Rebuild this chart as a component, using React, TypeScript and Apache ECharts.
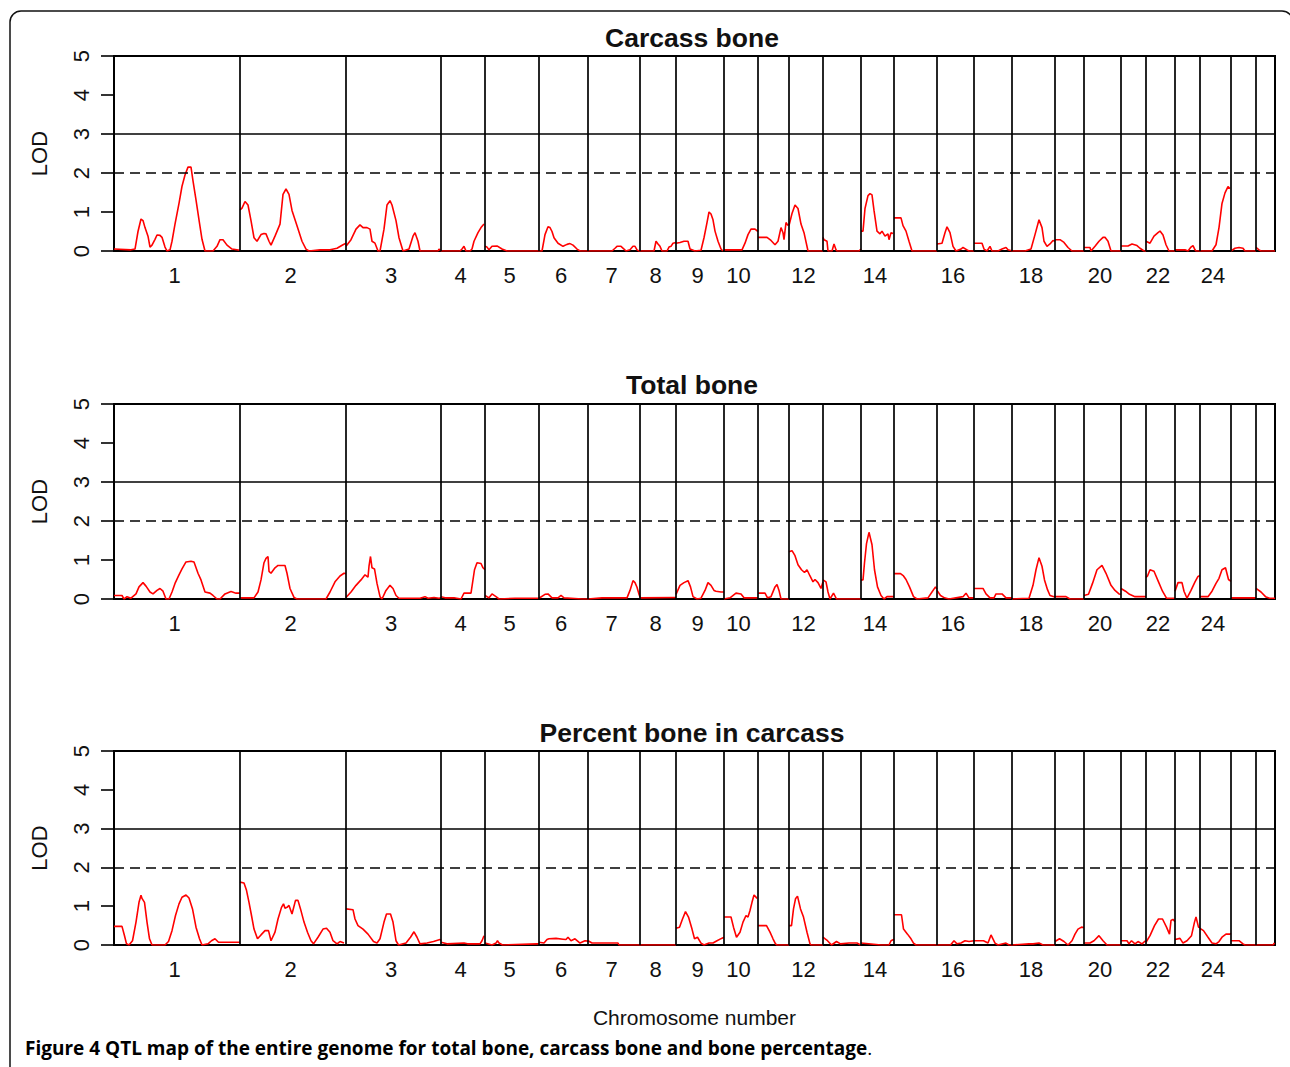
import { useEffect, useRef } from "react";
import * as echarts from "echarts";

// ---------- data ----------
const chromosomes = ["1","2","3","4","5","6","7","8","9","10","11","12","13","14","15","16","17","18","19","20","21","22","23","24","25","26"];
// chromosome map lengths (cM, map units of the genome scan)
const chrLengths = [126,106,95,44,54,49,52,36,48,34,31,34,38,33,43,37,38,43,29,37,25,29,25,31,25,19];
const labelledChromosomes = ["1","2","3","4","5","6","7","8","9","10","12","14","16","18","20","22","24"];
const yTickValues = [0, 1, 2, 3, 4, 5];
const thresholdLOD = 2;
const upperLOD = 3;
const panelTitles = ["Carcass bone", "Total bone", "Percent bone in carcass"];

type Curve = [number, number][];

// LOD profiles per chromosome: [position within chromosome, LOD]
const carcassBone: Curve[] = [
  [[0,0.05],[17,0.03],[21,0.05],[24,0.5],[27,0.82],[29,0.78],[31,0.6],[34,0.38],[36,0.1],[38,0.15],[41,0.3],[43,0.41],[46,0.4],[48,0.35],[51,0.1],[53,0],[56,0.03],[58,0.25],[61,0.69],[65,1.22],[68,1.66],[71,1.95],[74,2.15],[77,2.15],[79,1.8],[82,1.31],[85,0.8],[88,0.3],[91,0],[99,0],[103,0.12],[106,0.29],[109,0.29],[113,0.15],[118,0.05],[126,0.02]],
  [[0,1.05],[2,1.1],[5,1.27],[8,1.18],[11,0.78],[14,0.34],[17,0.25],[21,0.42],[24,0.45],[26,0.44],[29,0.25],[31,0.15],[35,0.38],[40,0.69],[43,1.45],[46,1.59],[49,1.45],[52,1.04],[57,0.65],[62,0.25],[66,0.05],[69,0],[80,0.03],[90,0.03],[97,0.07],[103,0.16],[106,0.2]],
  [[0,0.12],[5,0.29],[10,0.56],[14,0.67],[17,0.6],[21,0.6],[24,0.56],[26,0.25],[29,0.2],[32,0],[34,0],[38,0.56],[41,1.18],[44,1.29],[46,1.18],[50,0.78],[53,0.34],[57,0],[63,0.05],[67,0.38],[69,0.47],[72,0.25],[74,0],[92,0],[93,0.05],[95,0]],
  [[0,0],[19,0],[21,0.05],[23,0.12],[25,0],[29,0],[31,0.05],[33,0.25],[37,0.47],[40,0.6],[43,0.69]],
  [[0,0.12],[2,0.1],[4,0.03],[7,0.12],[12,0.13],[17,0.05],[22,0],[54,0]],
  [[0,0],[3,0],[6,0.42],[9,0.62],[11,0.6],[13,0.5],[15,0.34],[19,0.2],[24,0.12],[28,0.17],[31,0.19],[34,0.15],[38,0.05],[41,0],[49,0]],
  [[0,0],[24,0],[27,0.07],[29,0.12],[33,0.12],[36,0.05],[38,0],[42,0.03],[45,0.12],[47,0.12],[49,0.03],[51,0],[52,0]],
  [[0,0],[14,0],[16,0.25],[18,0.18],[20,0.12],[22,0],[27,0],[29,0.1],[31,0.12],[33,0.2],[36,0.22]],
  [[0,0.2],[4,0.22],[8,0.25],[12,0.25],[14,0.05],[19,0],[25,0.02],[28,0.34],[31,0.73],[33,1.0],[35,0.95],[37,0.8],[39,0.51],[42,0.25],[45,0.05],[47,0]],
  [[0,0.03],[18,0.03],[21,0.2],[24,0.42],[27,0.56],[31,0.56],[34,0.5]],
  [[0,0.35],[9,0.35],[13,0.27],[17,0.16],[20,0.25],[23,0.6],[25,0.47],[26,0.29],[28,0.73],[30,0.65]],
  [[0,0.65],[3,0.96],[6,1.18],[9,1.09],[12,0.69],[15,0.47],[19,0],[34,0]],
  [[0,0.35],[1,0.29],[4,0.25],[5,0],[9,0],[11,0.18],[13,0.03],[14,0],[36,0],[38,0.05]],
  [[0,0.51],[2,0.51],[4,1.09],[7,1.42],[9,1.47],[11,1.44],[13,1.04],[16,0.51],[19,0.44],[21,0.51],[24,0.38],[27,0.44],[28,0.29],[30,0.47],[32,0.45]],
  [[0,0.85],[7,0.85],[9,0.65],[12,0.51],[15,0.25],[18,0],[43,0]],
  [[0,0.18],[5,0.2],[8,0.47],[10,0.62],[13,0.47],[16,0.12],[19,0],[24,0.05],[26,0.09],[30,0.03],[32,0],[37,0]],
  [[0,0.2],[8,0.2],[10,0.05],[13,0],[16,0.12],[18,0],[24,0],[28,0.05],[32,0.09],[34,0.03],[38,0]],
  [[0,0],[13,0],[19,0.05],[23,0.42],[27,0.8],[30,0.6],[32,0.25],[35,0.12],[38,0.18],[41,0.27],[43,0.25]],
  [[0,0.29],[5,0.29],[9,0.22],[13,0.09],[17,0],[29,0]],
  [[0,0.09],[6,0.09],[7,0],[11,0.12],[15,0.25],[19,0.35],[21,0.35],[24,0.25],[27,0],[37,0]],
  [[0,0.13],[7,0.13],[11,0.18],[16,0.14],[19,0.07],[23,0],[25,0]],
  [[0,0.25],[4,0.2],[8,0.38],[12,0.47],[14,0.51],[17,0.41],[20,0.16],[23,0],[29,0]],
  [[0,0.03],[10,0.03],[13,0],[16,0.1],[18,0.14],[20,0.03],[21,0],[25,0]],
  [[0,0],[12,0],[16,0.16],[19,0.6],[22,1.22],[25,1.49],[28,1.65],[30,1.6]],
  [[0,0],[4,0.07],[8,0.09],[12,0.07],[14,0],[25,0]],
  [[0,0.09],[3,0.03],[5,0],[19,0]],
];

const totalBone: Curve[] = [
  [[0,0.09],[8,0.09],[10,0],[13,0.06],[17,0.02],[22,0.13],[25,0.31],[29,0.42],[32,0.33],[36,0.18],[39,0.13],[43,0.22],[46,0.27],[49,0.2],[52,0],[55,0],[58,0.18],[61,0.4],[65,0.62],[68,0.77],[72,0.95],[77,0.97],[80,0.95],[84,0.66],[87,0.49],[91,0.18],[96,0.15],[99,0.09],[103,0],[106,0],[111,0.13],[117,0.19],[122,0.15],[126,0.15]],
  [[0,0.03],[14,0.03],[18,0.18],[21,0.49],[24,0.93],[26,1.04],[28,1.09],[29,0.71],[31,0.66],[35,0.8],[38,0.86],[45,0.86],[47,0.66],[50,0.27],[54,0.04],[57,0],[86,0],[90,0.18],[95,0.44],[100,0.59],[104,0.66],[106,0.65]],
  [[0,0.04],[5,0.18],[10,0.35],[15,0.49],[19,0.62],[22,0.56],[23,0.84],[24.5,1.09],[26,0.8],[28.5,0.77],[31,0.4],[34,0.06],[36,0],[40,0.22],[44,0.35],[47,0.27],[50,0.09],[53,0.02],[74,0.02],[79,0.06],[82,0.02],[88,0.04],[93,0.02],[95,0.03]],
  [[0,0.06],[4,0.03],[13,0.03],[20,0],[23,0.15],[30,0.15],[33.5,0.75],[36,0.93],[40,0.91],[42,0.8],[44,0.75]],
  [[0,0.09],[4,0.03],[7,0.13],[11,0.06],[14,0],[30,0.02],[54,0.02]],
  [[0,0.02],[6,0.12],[9,0.13],[13,0.03],[19,0.03],[22,0.09],[25,0.03],[32,0.02],[43,0],[49,0]],
  [[0,0],[14,0.03],[39,0.03],[42,0.22],[45,0.47],[47,0.42],[49,0.3],[51,0.12],[52,0.05]],
  [[0,0.03],[36,0.04]],
  [[0,0.12],[4,0.35],[8,0.42],[12,0.47],[14.5,0.31],[17,0.06],[21,0],[25,0.02],[29,0.22],[32,0.42],[35,0.35],[38,0.22],[40,0.2],[45,0.18],[48,0.18]],
  [[0,0],[6,0.03],[12,0.15],[17,0.13],[20,0.03],[34,0.03]],
  [[0,0.15],[7,0.15],[9.5,0.03],[13,0.06],[17,0.31],[19,0.37],[21,0.22],[23,0],[31,0]],
  [[0,1.21],[3,1.24],[6,1.11],[9,0.88],[12.5,0.75],[15.5,0.68],[18,0.75],[21,0.59],[24,0.44],[26,0.5],[29,0.42],[32,0.27],[34,0.44]],
  [[0,0.49],[3,0.44],[5,0.18],[7,0],[10.5,0.15],[13.5,0],[38,0]],
  [[0,0.49],[2,0.49],[3.5,0.93],[5.5,1.42],[8,1.71],[11,1.39],[13.5,0.75],[16.5,0.31],[20,0.09],[23,0],[26,0.06],[30,0.06],[33,0.06]],
  [[0,0.65],[6.5,0.65],[9.5,0.59],[12,0.5],[15.5,0.31],[19.5,0.06],[23,0],[34,0.03],[38,0.18],[41.5,0.31],[43,0.25]],
  [[0,0.22],[3.5,0.09],[7.5,0.03],[12,0],[26,0.06],[29,0.15],[32,0.03],[37,0.03]],
  [[0,0.27],[9,0.27],[12,0.13],[16,0.03],[20,0.03],[22,0.13],[28,0.13],[32,0.03],[38,0.03]],
  [[0,0],[17,0.02],[21,0.35],[24,0.75],[27,1.06],[30,0.84],[32.5,0.49],[35.5,0.24],[38,0.09],[42,0.06],[43,0.06]],
  [[0,0.06],[11,0.06],[15,0],[29,0]],
  [[0,0.09],[4.5,0.12],[8.5,0.4],[13,0.75],[18,0.86],[22,0.66],[27,0.35],[31,0.22],[35,0.13],[37,0.12]],
  [[0,0.27],[4.5,0.2],[8.5,0.12],[14,0.06],[25,0.06]],
  [[0,0.55],[1.5,0.59],[4,0.75],[8,0.71],[12.5,0.44],[16.5,0.2],[20.5,0.02],[29,0.02]],
  [[0,0.2],[3,0.42],[7,0.42],[9,0.2],[12,0.02],[16,0.22],[20,0.44],[23,0.58],[25,0.6]],
  [[0,0.06],[8,0.06],[12,0.2],[16,0.4],[19,0.53],[22,0.75],[25.5,0.8],[28.5,0.5],[31,0.45]],
  [[0,0.03],[25,0.03]],
  [[0,0.27],[5,0.18],[9.5,0.06],[13.5,0.02],[19,0.02]],
];

const percentBone: Curve[] = [
  [[0,0.48],[8,0.48],[10.5,0.24],[12.5,0.03],[15,0],[18.5,0.11],[22,0.59],[25,1.1],[27,1.28],[28,1.2],[30.5,1.1],[33,0.59],[35.5,0.16],[38,0],[51,0],[54.5,0.09],[58,0.37],[61.5,0.76],[65,1.06],[68,1.23],[72,1.29],[75,1.21],[78.5,0.93],[82,0.46],[85.5,0.16],[88,0],[94,0.03],[97.5,0.11],[101,0.16],[104.5,0.07],[126,0.07]],
  [[0,1.62],[4,1.6],[6.5,1.41],[9,1.1],[11.5,0.76],[14,0.41],[17.5,0.16],[21,0.26],[25,0.37],[28.5,0.37],[31,0.11],[35,0.33],[38,0.67],[41.5,0.97],[43.5,1.06],[45,0.95],[47,0.97],[49,1.02],[52,0.8],[55.5,1.15],[58,1.15],[60.5,0.93],[64,0.59],[67.5,0.33],[71,0.11],[73.5,0.03],[78,0.2],[83,0.41],[86.5,0.43],[90,0.33],[93,0.11],[97,0.03],[100,0.09],[104,0.05]],
  [[0,0.93],[7,0.91],[9,0.67],[12,0.5],[17,0.41],[22,0.28],[27.5,0.09],[31,0.05],[34,0.16],[38,0.59],[40.5,0.8],[44.5,0.8],[47,0.59],[50,0.11],[52.5,0],[60,0.05],[64.5,0.2],[68,0.34],[71,0.2],[74,0.03],[81,0.05],[87.5,0.09],[94,0.14],[95,0.12]],
  [[0,0.07],[6,0.03],[23,0.05],[26.5,0.03],[39,0.03],[41,0.11],[43,0.24]],
  [[0,0.05],[7,0],[11,0.05],[12.5,0.11],[14,0.05],[17.5,0],[52,0.03],[54,0.03]],
  [[0,0.07],[5,0.05],[8,0.14],[10,0.16],[17,0.17],[24,0.15],[27,0.14],[29,0.2],[32,0.11],[36,0.16],[41,0.05],[46,0.11],[49,0.1]],
  [[0,0.11],[4,0.05],[30,0.05],[31,0],[52,0]],
  [[0,0],[36,0]],
  [[0,0.43],[3.5,0.46],[6.5,0.67],[9.5,0.86],[12.5,0.72],[16,0.41],[18.5,0.16],[21.5,0.2],[25,0.05],[28,0],[33,0.05],[37,0.05],[41,0.11],[45.5,0.17],[48,0.2]],
  [[0,0.72],[7,0.72],[9.5,0.46],[12.5,0.2],[16,0.33],[19,0.59],[22,0.76],[24,0.72],[26,0.89],[28,1.1],[30,1.29],[31.5,1.25],[33,1.2]],
  [[0,0.5],[8.5,0.5],[12,0.33],[15,0.16],[17.5,0.03],[19,0],[31,0]],
  [[0,0.5],[2.5,0.5],[4.5,0.93],[6.5,1.19],[8.5,1.26],[11.5,0.93],[14.5,0.72],[18,0.33],[21,0.03],[22,0],[34,0]],
  [[0,0.2],[1.5,0.17],[4.5,0.11],[8.5,0],[13.5,0.09],[17.5,0.03],[26,0.05],[34,0.05],[37.5,0]],
  [[0,0.05],[20,0],[28,0],[30,0.11],[33,0.15]],
  [[0,0.78],[7.5,0.78],[9.5,0.41],[13.5,0.28],[17,0.16],[19.5,0.05],[22,0],[43,0]],
  [[0,0],[13.5,0],[17,0.11],[20,0.03],[24,0.05],[28,0.11],[32,0.09],[37,0.11]],
  [[0,0.11],[9.5,0.11],[14,0.05],[17,0.26],[21,0.05],[24,0],[32,0.05],[35,0],[38,0]],
  [[0,0],[17,0.03],[21,0.03],[27,0.05],[31,0],[43,0]],
  [[0,0.09],[4.5,0.16],[9,0.09],[13,0],[17,0.11],[20,0.28],[23,0.41],[26.5,0.46],[29,0.45]],
  [[0,0.05],[6,0.05],[10,0.11],[15,0.24],[19,0.11],[23,0],[37,0]],
  [[0,0.11],[6,0.11],[8,0.03],[10.5,0.11],[14,0.03],[17,0.09],[21,0.03],[24.5,0.11],[25,0.1]],
  [[0,0.07],[4,0.24],[8.5,0.5],[12.5,0.67],[16.5,0.67],[20.5,0.46],[23.5,0.28],[25,0.63],[27,0.66],[29,0.6]],
  [[0,0.14],[5,0.17],[8,0.05],[12,0.11],[16.5,0.24],[19.5,0.59],[21,0.72],[23.5,0.46],[25,0.45]],
  [[0,0.43],[3.5,0.37],[8,0.2],[12,0.05],[16,0.03],[19,0.09],[22,0.2],[26,0.28],[30,0.28],[31,0.3]],
  [[0,0.11],[8,0.11],[12,0.03],[14,0],[25,0]],
  [[0,0],[17,0],[18.5,0.05],[19,0.05]],
];

const panelCurves = [carcassBone, totalBone, percentBone];

// ---------- derived scale helpers ----------
const chrStarts: number[] = [];
{
  let s = 0;
  chrLengths.forEach((l) => { chrStarts.push(s); s += l; });
}
const genomeLength = chrLengths.reduce((a, b) => a + b, 0);
const LABEL_SHIFT = -2.5; // labels sit slightly left of the chromosome midpoint
const labelMids = labelledChromosomes.map((c) => {
  const i = chromosomes.indexOf(c);
  return chrStarts[i] + chrLengths[i] / 2 + LABEL_SHIFT;
});

function buildLine(curves: Curve[]) {
  const out: (number | string)[][] = [];
  curves.forEach((pts, i) => {
    pts.forEach(([p, l]) => out.push([chrStarts[i] + Math.min(p, chrLengths[i]), l]));
    out.push([chrStarts[i] + chrLengths[i], "-"]);
  });
  return out;
}

const FONT = "Liberation Sans";
const GRID_LEFT = 114;
const GRID_RIGHT = 15;
const GRID_TOPS = [56, 404, 751];
const GRID_HEIGHTS = [195, 195, 194];
const TITLE_TOPS = [24, 371, 719];

export default function App() {
  const ref = useRef<HTMLDivElement>(null);

  useEffect(() => {
    if (!ref.current) return;
    const chart = echarts.init(ref.current, undefined, { renderer: "svg" });

    const grids = GRID_TOPS.map((top, i) => ({
      left: GRID_LEFT,
      right: GRID_RIGHT,
      top,
      height: GRID_HEIGHTS[i],
      show: true,
      borderColor: "#000",
      borderWidth: 2,
      backgroundColor: "transparent",
    }));

    const xAxes = GRID_TOPS.map((_, i) => ({
      gridIndex: i,
      type: "value",
      min: 0,
      max: genomeLength,
      axisLine: { show: false },
      axisTick: { show: false },
      splitLine: { show: false },
      axisLabel: {
        show: true,
        customValues: labelMids,
        margin: 13,
        fontSize: 22,
        fontFamily: FONT,
        color: "#111",
        formatter: (v: number) => {
          let best = 0;
          labelMids.forEach((m, k) => {
            if (Math.abs(m - v) < Math.abs(labelMids[best] - v)) best = k;
          });
          return labelledChromosomes[best];
        },
      },
      name: i === 2 ? "Chromosome number" : "",
      nameLocation: "middle",
      nameGap: 62,
      nameTextStyle: { fontSize: 21, fontFamily: FONT, color: "#111" },
    }));

    const yAxes = GRID_TOPS.map((_, i) => ({
      gridIndex: i,
      type: "value",
      min: 0,
      max: 5,
      interval: 1,
      axisLine: { show: true, lineStyle: { color: "#000", width: 2 } },
      axisTick: { show: true, length: 13, lineStyle: { color: "#000", width: 1.6 } },
      splitLine: { show: false },
      axisLabel: {
        rotate: 90,
        margin: 22,
        fontSize: 22,
        fontFamily: FONT,
        color: "#111",
        formatter: (v: number) => (yTickValues.includes(v) ? String(v) : ""),
      },
      name: "LOD",
      nameLocation: "middle",
      nameRotate: 90,
      nameGap: 64,
      nameTextStyle: { fontSize: 22, fontFamily: FONT, color: "#111" },
    }));

    const series: any[] = [];
    panelCurves.forEach((curves, i) => {
      series.push({
        type: "line",
        xAxisIndex: i,
        yAxisIndex: i,
        data: [],
        z: 1,
        silent: true,
        markLine: {
          silent: true,
          symbol: ["none", "none"],
          label: { show: false },
          animation: false,
          lineStyle: { color: "#000", width: 1.7, type: "solid" },
          data: [
            ...chrStarts.slice(1).map((s) => ({ xAxis: s })),
            { yAxis: upperLOD },
            { yAxis: thresholdLOD, lineStyle: { color: "#000", width: 1.7, type: [10, 6] } },
          ],
        },
      });
      series.push({
        type: "line",
        name: panelTitles[i],
        xAxisIndex: i,
        yAxisIndex: i,
        data: buildLine(curves),
        z: 3,
        showSymbol: false,
        connectNulls: false,
        lineStyle: { color: "#ff0000", width: 1.6 },
        itemStyle: { color: "#ff0000" },
      });
    });

    chart.setOption({
      animation: false,
      backgroundColor: "#ffffff",
      title: panelTitles.map((t, i) => ({
        text: t,
        left: 692,
        top: TITLE_TOPS[i],
        textAlign: "center",
        padding: 0,
        textStyle: { fontSize: 26.5, fontWeight: "bold", fontFamily: FONT, color: "#111" },
      })),
      grid: grids,
      xAxis: xAxes,
      yAxis: yAxes,
      series,
      graphic: [
        {
          type: "rect",
          silent: true,
          shape: { x: 10, y: 11, width: 1283, height: 1100, r: 11 },
          style: { fill: "none", stroke: "#111", lineWidth: 1.5 },
        },
        {
          type: "text",
          left: 25,
          top: 1038,
          silent: true,
          style: {
            text: "{b|Figure 4 QTL map of the entire genome for total bone, carcass bone and bone percentage}{n|.}",
            rich: {
              b: { fontSize: 19, fontWeight: "bold", fontFamily: "Open Sans", fill: "#000" },
              n: { fontSize: 19, fontWeight: "normal", fontFamily: "Open Sans", fill: "#000" },
            },
          },
        },
      ],
    });

    return () => chart.dispose();
  }, []);

  return (
    <div
      ref={ref}
      style={{ position: "fixed", left: 0, top: 0, width: 1290, height: 1067, background: "#fff" }}
    />
  );
}
